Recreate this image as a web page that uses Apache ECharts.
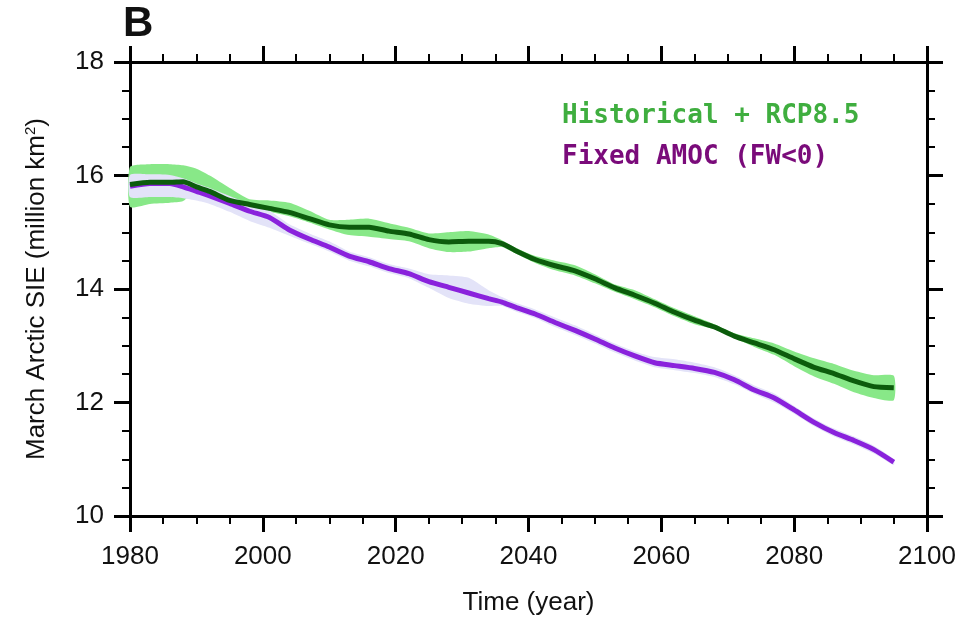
<!DOCTYPE html>
<html>
<head>
<meta charset="utf-8">
<script src="https://cdn.jsdelivr.net/npm/echarts@6/dist/echarts.min.js"></script>
<style>
html,body{margin:0;padding:0;background:#fff;}
#chart{width:971px;height:621px;}
</style>
</head>
<body>
<div id="chart"></div>
<script>
var years = [1980,1983,1986,1988,1990,1992,1995,1998,2001,2004,2007,2010,2013,2016,2019,2022,2025,2028,2031,2034,2036,2038,2041,2044,2047,2050,2053,2056,2059,2062,2065,2068,2071,2074,2077,2080,2083,2086,2089,2092,2095];

var histMean = [15.84,15.88,15.88,15.89,15.80,15.72,15.56,15.49,15.42,15.35,15.24,15.13,15.09,15.09,15.02,14.97,14.87,14.83,14.84,14.84,14.80,14.68,14.52,14.41,14.32,14.18,14.02,13.89,13.75,13.59,13.45,13.33,13.17,13.05,12.93,12.77,12.62,12.51,12.38,12.28,12.26];
var histLow  = [15.45,15.50,15.52,15.55,15.74,15.66,15.50,15.42,15.36,15.28,15.17,15.05,14.95,14.92,14.88,14.84,14.72,14.65,14.66,14.72,14.74,14.63,14.46,14.33,14.24,14.10,13.95,13.82,13.68,13.52,13.38,13.29,13.13,12.98,12.84,12.64,12.46,12.33,12.18,12.08,12.04];
var histHigh = [16.15,16.20,16.20,16.18,16.12,16.00,15.78,15.58,15.56,15.52,15.38,15.22,15.22,15.24,15.16,15.08,14.98,15.00,15.02,14.96,14.86,14.73,14.58,14.50,14.42,14.26,14.08,13.98,13.82,13.66,13.52,13.38,13.22,13.13,13.04,12.90,12.78,12.68,12.56,12.48,12.47];

var amocMean = [15.81,15.86,15.86,15.80,15.72,15.64,15.51,15.37,15.26,15.04,14.88,14.74,14.58,14.48,14.36,14.27,14.13,14.03,13.93,13.83,13.77,13.68,13.56,13.41,13.27,13.12,12.96,12.82,12.70,12.65,12.60,12.53,12.40,12.22,12.08,11.87,11.65,11.47,11.33,11.17,10.95];
var amocLow  = [15.62,15.62,15.62,15.60,15.56,15.50,15.36,15.20,15.08,14.94,14.80,14.66,14.50,14.40,14.28,14.19,14.02,13.84,13.74,13.70,13.70,13.61,13.49,13.33,13.19,13.04,12.88,12.74,12.62,12.57,12.52,12.45,12.32,12.15,12.00,11.80,11.58,11.40,11.26,11.10,10.90];
var amocHigh = [16.01,16.02,16.01,15.95,15.86,15.78,15.64,15.50,15.38,15.14,14.98,14.84,14.66,14.56,14.44,14.36,14.26,14.24,14.20,13.98,13.86,13.76,13.64,13.50,13.36,13.20,13.04,12.90,12.80,12.76,12.70,12.62,12.48,12.30,12.16,11.94,11.72,11.54,11.40,11.24,11.00];

var xTicks = {min:1980, max:2100, interval:20};
var yTicks = {min:10, max:18, interval:2};
var legendNames = ['Historical + RCP8.5','Fixed AMOC (FW<0)'];

function pairs(a){ return years.map(function(y,i){ return [y,a[i]]; }); }

var chart = echarts.init(document.getElementById('chart'), null, {renderer:'canvas'});
var font = 'Liberation Sans, Arial, Helvetica, sans-serif';
var axisLine = {show:true, onZero:false, lineStyle:{color:'#000', width:3}};
var tick = {show:true, inside:false, length:16, lineStyle:{color:'#000', width:3}};
var minor = {show:true, splitNumber:4, length:8, lineStyle:{color:'#000', width:2}};

function bandSeries(lo, hi, color){
  var data = years.map(function(y,i){ return [y, lo[i], hi[i]]; });
  return {
    type:'custom', silent:true, data:data,
    encode:{x:0, y:[1,2]},
    renderItem:function(params, api){
      if (params.dataIndex !== 0) return null;
      var top = [], bot = [];
      for (var i = 0; i < years.length; i++) {
        top.push(api.coord([years[i], hi[i]]));
        bot.push(api.coord([years[i], lo[i]]));
      }
      var pts = top.concat(bot.reverse());
      return {type:'polygon', shape:{points:pts, smooth:0.2}, style:{fill:color, stroke:null}};
    }
  };
}

chart.setOption({
  animation:false,
  backgroundColor:'#fff',
  grid:{left:130, right:44, top:62, bottom:105},
  xAxis:[
    {type:'value', position:'bottom', min:xTicks.min, max:xTicks.max, interval:xTicks.interval,
     axisLine:axisLine, axisTick:tick, minorTick:minor, splitLine:{show:false}, minorSplitLine:{show:false},
     axisLabel:{show:true, margin:28, color:'#111', fontFamily:font, fontSize:26, formatter:function(v){return String(v);}},
     name:'Time (year)', nameLocation:'middle', nameGap:74,
     nameTextStyle:{color:'#111', fontFamily:font, fontSize:26}},
    {type:'value', position:'top', min:xTicks.min, max:xTicks.max, interval:xTicks.interval,
     axisLine:axisLine, axisTick:tick, minorTick:minor, splitLine:{show:false},
     axisLabel:{show:false}}
  ],
  yAxis:[
    {type:'value', position:'left', min:yTicks.min, max:yTicks.max, interval:yTicks.interval,
     axisLine:axisLine, axisTick:tick, minorTick:minor, splitLine:{show:false}, minorSplitLine:{show:false},
     axisLabel:{show:true, margin:26, color:'#111', fontFamily:font, fontSize:26, formatter:function(v){return String(v);}},
     name:'March Arctic SIE (million km{sup|2})', nameLocation:'middle', nameGap:80, nameRotate:90,
     nameTextStyle:{color:'#111', fontFamily:font, fontSize:26,
       rich:{sup:{fontSize:15, verticalAlign:'top', padding:[0,0,12,0], fontFamily:font, color:'#111'}}}},
    {type:'value', position:'right', min:yTicks.min, max:yTicks.max, interval:yTicks.interval,
     axisLine:axisLine, axisTick:tick, minorTick:minor, splitLine:{show:false},
     axisLabel:{show:false}}
  ],
  graphic:[
    {type:'text', left:123, top:3, style:{text:'B', font:'bold 42px Liberation Sans, Arial, sans-serif', fill:'#111'}},
    {type:'text', left:562, top:103, style:{text:legendNames[0], font:'bold 26px DejaVu Sans Mono, monospace', fill:'#3fae3f'}},
    {type:'text', left:562, top:144, style:{text:legendNames[1], font:'bold 26px DejaVu Sans Mono, monospace', fill:'#7a0b7a'}}
  ],
  series:[
    bandSeries(histLow, histHigh, '#88e888'),
    bandSeries(amocLow, amocHigh, '#e3e3f8'),
    {type:'line', name:legendNames[1], data:pairs(amocMean), symbol:'none', smooth:0.2,
     lineStyle:{color:'#8a22dc', width:5}},
    {type:'line', name:legendNames[0], data:pairs(histMean), symbol:'none', smooth:0.2,
     lineStyle:{color:'#0c5c0c', width:5}}
  ]
});
</script>
</body>
</html>
